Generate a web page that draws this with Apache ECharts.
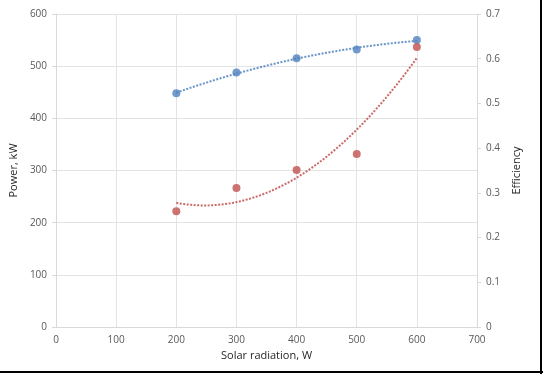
<!DOCTYPE html>
<html>
<head>
<meta charset="utf-8">
<script src="https://cdn.jsdelivr.net/npm/echarts@6/dist/echarts.min.js"></script>
<style>
html,body{margin:0;padding:0;background:#fff;}
#c{width:543px;height:374px;}
</style>
</head>
<body>
<div id="c"></div>
<script>
// Data
var radiation = [200, 300, 400, 500, 600];          // Solar radiation, W
var power = [448, 488, 515, 532, 550];              // Power, kW (left axis, blue)
var efficiency = [0.259, 0.311, 0.351, 0.387, 0.626]; // Efficiency (right axis, red)
var xTicks = [0, 700, 100];
var leftTicks = [0, 600, 100];
var rightTicks = [0, 0.7, 0.1];

// Order-2 polynomial least-squares trendline (as the spreadsheet trendline)
function polyFit2(xs, ys) {
  var n = xs.length, sx=0,sx2=0,sx3=0,sx4=0,sy=0,sxy=0,sx2y=0;
  for (var i=0;i<n;i++){var x=xs[i],y=ys[i];sx+=x;sx2+=x*x;sx3+=x*x*x;sx4+=x*x*x*x;sy+=y;sxy+=x*y;sx2y+=x*x*y;}
  var A=[[n,sx,sx2,sy],[sx,sx2,sx3,sxy],[sx2,sx3,sx4,sx2y]];
  for (var c=0;c<3;c++){
    for (var r=c+1;r<3;r++){var f=A[r][c]/A[c][c];for(var k=c;k<4;k++)A[r][k]-=f*A[c][k];}
  }
  var b=[0,0,0];
  for (var r2=2;r2>=0;r2--){var s=A[r2][3];for(var k2=r2+1;k2<3;k2++)s-=A[r2][k2]*b[k2];b[r2]=s/A[r2][r2];}
  return b;
}
function trend(xs, ys) {
  var b = polyFit2(xs, ys), out = [];
  var x0 = xs[0], x1 = xs[xs.length-1];
  for (var x = x0; x <= x1 + 1e-9; x += 5) out.push([x, b[0] + b[1]*x + b[2]*x*x]);
  return out;
}

var blue = '#4F81BD', red = '#C0504D';
var font = 'Open Sans';
var chart = echarts.init(document.getElementById('c'), null, {renderer: 'canvas'});
chart.setOption({
  animation: false,
  backgroundColor: '#ffffff',
  grid: {left: 55, right: 66, top: 14, bottom: 47, containLabel: false},
  xAxis: {
    type: 'value', min: xTicks[0], max: xTicks[1], interval: xTicks[2],
    name: 'Solar radiation, W', nameLocation: 'middle', nameGap: 23,
    nameTextStyle: {fontFamily: font, fontSize: 11, color: '#262626'},
    axisLine: {show: true, lineStyle: {color: '#d9d9d9'}},
    axisTick: {show: false},
    axisLabel: {fontFamily: font, fontSize: 10, color: '#595959', margin: 8},
    splitLine: {show: true, lineStyle: {color: '#e3e3e3'}}
  },
  yAxis: [{
    type: 'value', min: leftTicks[0], max: leftTicks[1], interval: leftTicks[2],
    name: 'Power, kW', nameLocation: 'middle', nameGap: 30,
    nameTextStyle: {fontFamily: font, fontSize: 11, color: '#262626'},
    axisLine: {show: true, lineStyle: {color: '#d9d9d9'}},
    axisTick: {show: true, length: 4, lineStyle: {color: '#d9d9d9'}},
    axisLabel: {fontFamily: font, fontSize: 10, color: '#595959', margin: 9},
    splitLine: {show: true, lineStyle: {color: '#e3e3e3'}}
  }, {
    type: 'value', min: rightTicks[0], max: rightTicks[1], interval: rightTicks[2],
    name: 'Efficiency', nameLocation: 'middle', nameGap: 30,
    nameTextStyle: {fontFamily: font, fontSize: 11, color: '#262626'},
    axisLine: {show: true, lineStyle: {color: '#d9d9d9'}},
    axisTick: {show: true, length: 4, lineStyle: {color: '#d9d9d9'}},
    axisLabel: {fontFamily: font, fontSize: 10, color: '#595959', margin: 9,
      formatter: function (v) { return v === 0 ? '0' : v.toFixed(1); }},
    splitLine: {show: false}
  }],
  series: [{
    type: 'line', yAxisIndex: 0, data: trend(radiation, power), showSymbol: false, smooth: false,
    lineStyle: {color: blue, width: 2, type: [2, 1.5], opacity: 0.85}, z: 2, silent: true
  }, {
    type: 'line', yAxisIndex: 1, data: trend(radiation, efficiency), showSymbol: false, smooth: false,
    lineStyle: {color: red, width: 2, type: [2, 1.5], opacity: 0.85}, z: 2, silent: true
  }, {
    type: 'scatter', yAxisIndex: 0, symbolSize: 8,
    data: radiation.map(function (x, i) { return [x, power[i]]; }),
    itemStyle: {color: blue}, z: 3
  }, {
    type: 'scatter', yAxisIndex: 1, symbolSize: 8,
    data: radiation.map(function (x, i) { return [x, efficiency[i]]; }),
    itemStyle: {color: red}, z: 3
  }],
  graphic: [
    {type: 'line', shape: {x1: 541, y1: 0, x2: 541, y2: 374}, style: {stroke: '#000', lineWidth: 2}},
    {type: 'line', shape: {x1: 0, y1: 372, x2: 543, y2: 372}, style: {stroke: '#000', lineWidth: 2}}
  ]
});
</script>
</body>
</html>
